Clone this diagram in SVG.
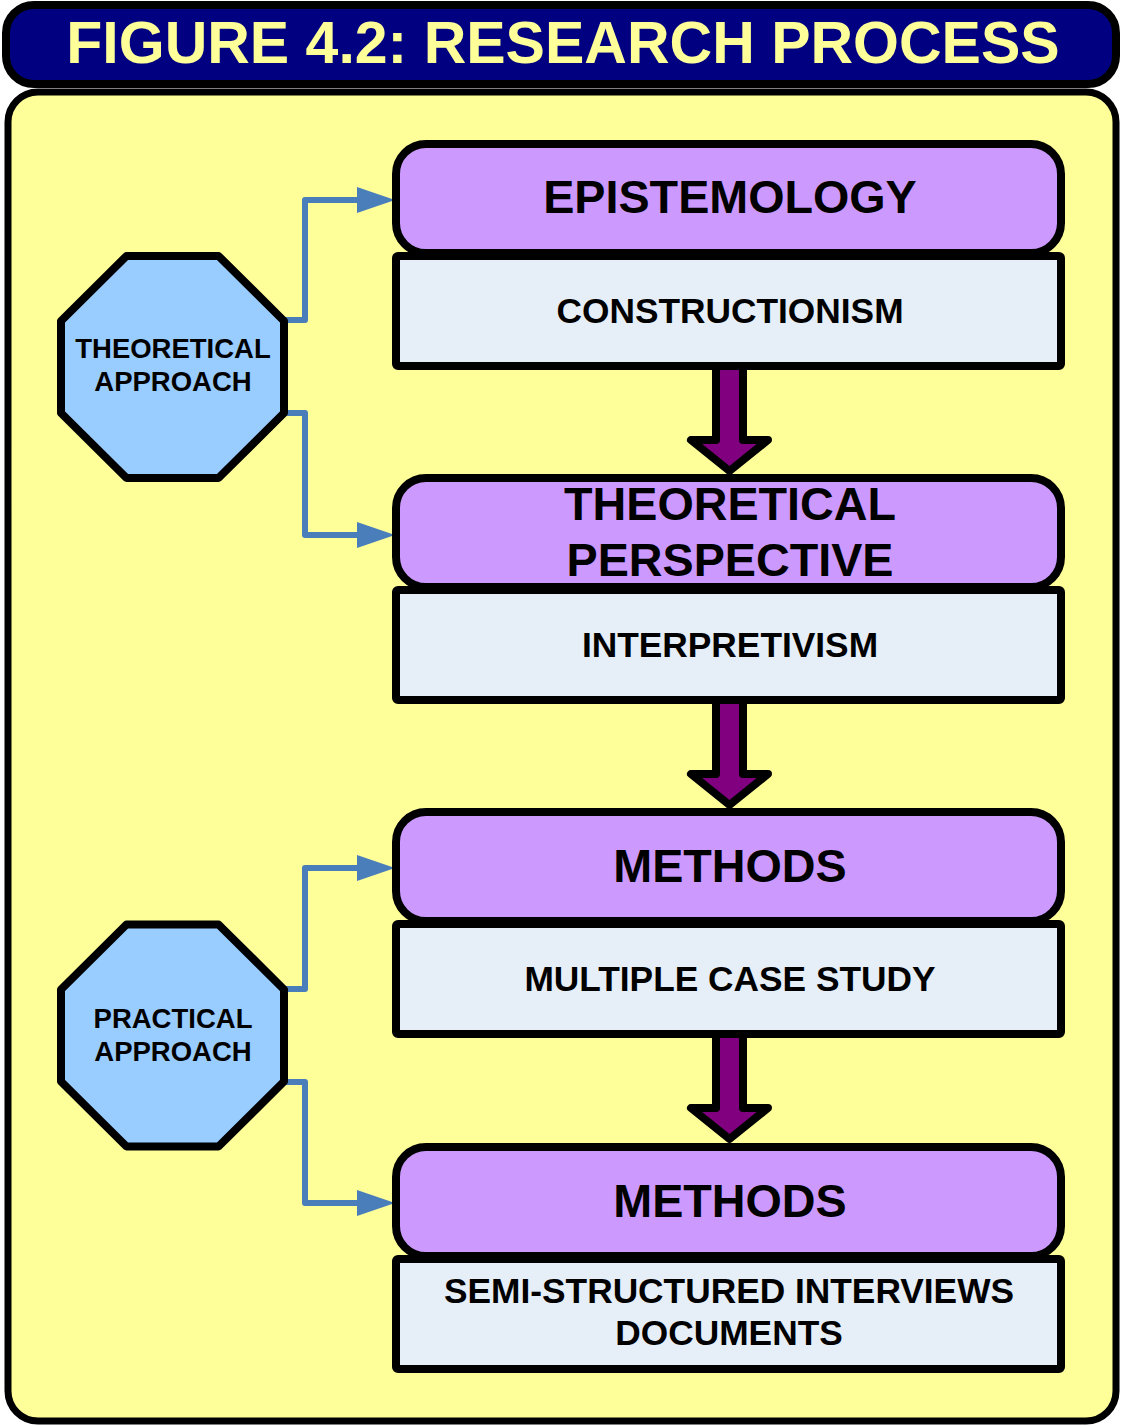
<svg xmlns="http://www.w3.org/2000/svg" width="1121" height="1426" viewBox="0 0 1121 1426">
<style>
.t{font-family:"Liberation Sans",Arial,sans-serif;font-weight:bold;text-anchor:middle}
.title{fill:#FFFF99;font-size:59px}
.big{fill:#000;font-size:46.7px}
.mid{fill:#000;font-size:35.3px}
.oct{fill:#000;font-size:27.5px}
.purple{fill:#CC99FF;stroke:#000;stroke-width:8}
.light{fill:#E6EEF8;stroke:#000;stroke-width:8;stroke-linejoin:round}
.octs{fill:#99CCFF;stroke:#000;stroke-width:8;stroke-linejoin:round}
.conn{fill:none;stroke:#4A7EBB;stroke-width:6;stroke-linejoin:round;stroke-linecap:butt}
.down{fill:#800080;stroke:#000;stroke-width:8;stroke-linejoin:round}
</style>
<defs>
<marker id="ah" markerUnits="userSpaceOnUse" markerWidth="40" markerHeight="28" refX="23" refY="13" orient="auto">
<path d="M0,0 L38,13 L0,26 Z" fill="#4A7EBB"/>
</marker>
<path id="darrow" d="M-13.5,0 H13.5 V74 H38.5 L0,105 L-38.5,74 H-13.5 Z"/>
<polygon id="octagon" points="-46,-111 46,-111 111.5,-46 111.5,46 46,111 -46,111 -111.5,46 -111.5,-46"/>
</defs>

<g id="title">
<rect x="6" y="5" width="1110" height="79" rx="28" fill="#000080" stroke="#000" stroke-width="8"/>
<text class="t title" x="563" y="63">FIGURE 4.2: RESEARCH PROCESS</text>
</g>

<g id="panel">
<rect x="8" y="92" width="1108" height="1329" rx="30" fill="#FFFF99" stroke="#000" stroke-width="7"/>
</g>

<g id="connectors">
<polyline class="conn" points="284,320 305,320 305,200 380,200" marker-end="url(#ah)"/>
<polyline class="conn" points="282,413 305,413 305,535 380,535" marker-end="url(#ah)"/>
<polyline class="conn" points="284,989 305,989 305,868 380,868" marker-end="url(#ah)"/>
<polyline class="conn" points="284,1082 305,1082 305,1203 380,1203" marker-end="url(#ah)"/>
<use href="#darrow" class="down" x="729.5" y="366"/>
<use href="#darrow" class="down" x="729.5" y="700"/>
<use href="#darrow" class="down" x="729.5" y="1034"/>
</g>

<g id="theoretical-approach">
<use href="#octagon" class="octs" x="172.5" y="367"/>
<text class="t oct" x="173" y="358">THEORETICAL</text>
<text class="t oct" x="173" y="391">APPROACH</text>
</g>

<g id="practical-approach">
<use href="#octagon" class="octs" x="172.5" y="1035.5"/>
<text class="t oct" x="173" y="1028">PRACTICAL</text>
<text class="t oct" x="173" y="1061">APPROACH</text>
</g>

<g id="epistemology">
<rect class="purple" x="396" y="144" width="665" height="109" rx="30"/>
<text class="t big" x="730" y="213">EPISTEMOLOGY</text>
</g>
<g id="constructionism">
<rect class="light" x="396" y="256" width="665" height="110" rx="2"/>
<text class="t mid" x="730" y="323">CONSTRUCTIONISM</text>
</g>

<g id="theoretical-perspective">
<rect class="purple" x="396" y="478" width="665" height="109" rx="30"/>
<text class="t big" x="730" y="520">THEORETICAL</text>
<text class="t big" x="730" y="576">PERSPECTIVE</text>
</g>
<g id="interpretivism">
<rect class="light" x="396" y="590" width="665" height="110" rx="2"/>
<text class="t mid" x="730" y="657">INTERPRETIVISM</text>
</g>

<g id="methods-1">
<rect class="purple" x="396" y="812" width="665" height="109" rx="30"/>
<text class="t big" x="730" y="882">METHODS</text>
</g>
<g id="multiple-case-study">
<rect class="light" x="396" y="924" width="665" height="110" rx="2"/>
<text class="t mid" x="730" y="991">MULTIPLE CASE STUDY</text>
</g>

<g id="methods-2">
<rect class="purple" x="396" y="1147" width="665" height="109" rx="30"/>
<text class="t big" x="730" y="1217">METHODS</text>
</g>
<g id="data-sources">
<rect class="light" x="396" y="1259" width="665" height="110" rx="2"/>
<text class="t mid" x="729" y="1303">SEMI-STRUCTURED INTERVIEWS</text>
<text class="t mid" x="729" y="1345">DOCUMENTS</text>
</g>
</svg>
